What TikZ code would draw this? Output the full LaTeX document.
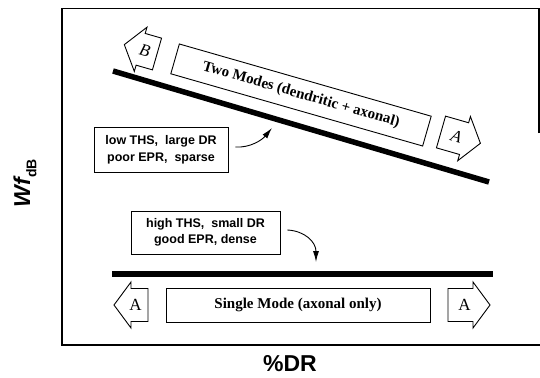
\documentclass[tikz,border=0pt]{standalone}
\usepackage{fontspec}
\setmainfont{Liberation Serif}
\setsansfont{Liberation Sans}
\usetikzlibrary{arrows.meta}
\tikzset{
  frameline/.style={line width=1.5pt},
  modeline/.style={line width=5.5pt},
  modebox/.style={draw, line width=0.9pt, inner sep=0pt, font=\bfseries\fontsize{15}{17}\selectfont},
  notebox/.style={draw, line width=0.9pt, inner sep=0pt, align=center, font=\sffamily\bfseries\fontsize{12.5}{16.5}\selectfont},
  arrowshape/.style={draw, line width=0.9pt, fill=white},
  lettr/.style={inner sep=0pt, font=\fontsize{17}{19}\selectfont},
  callout/.style={-{Latex[length=11pt,width=6pt]}, line width=0.9pt},
  axislabel/.style={inner sep=0pt, font=\sffamily\bfseries\fontsize{23}{25}\selectfont}
}
\newcommand\dirarrow[7]{%
  \begin{scope}[shift={(#2,#3)}, rotate=#4, xscale=#5]
    \draw[arrowshape] (0,-16.5) -- (#6,-16.5) -- (#6,-23) -- ({#6+17},0) -- (#6,23) -- (#6,16.5) -- (0,16.5) -- cycle;
    \node[lettr, rotate=#4] (#1) at ({#6/2+4},0) {#7};
  \end{scope}}
\begin{document}
\begin{tikzpicture}[x=1pt,y=-1pt]
  \useasboundingbox (0,0) rectangle (540,377);
  % frame
  \coordinate (fr1) at (539,133);
  \coordinate (fr2) at (539,8.5);
  \coordinate (fr3) at (62,8.5);
  \coordinate (fr4) at (62,345);
  \coordinate (fr5) at (540,345);
  \draw[frameline] (fr1) -- (fr2) -- (fr3) -- (fr4) -- (fr5);
  % axis labels
  \node[axislabel, rotate=90] (ylab) at (25,183) {\itshape Wf\raisebox{-0.28em}{\upshape\fontsize{14}{14}\selectfont dB}};
  \node[axislabel] (xlab) at (290,363.5) {\%DR};
  % sloped mode line
  \coordinate (s1) at (113,71);
  \coordinate (s2) at (489,182);
  \draw[modeline] (s1) -- (s2);
  \node[modebox, minimum width=262pt, minimum height=31pt, rotate=-16] (two) at (301,95) {Two Modes (dendritic + axonal)};
  \dirarrow{B1}{157}{54}{-16}{-1}{17}{\itshape B}
  \dirarrow{A1}{441}{132}{-16}{1}{24}{\itshape A}
  % low note
  \node[notebox, minimum width=134pt, minimum height=45pt] (low) at (161,150) {low THS,\ \ large DR\\poor EPR,\ \ sparse};
  \coordinate (lowtip) at (272,128);
  \draw[callout] ([xshift=7pt,yshift=3pt]low.east) .. controls (250,148) and (262,140) .. (lowtip);
  % high note
  \node[notebox, minimum width=149pt, minimum height=43pt] (high) at (205.5,232.5) {high THS,\ \ small DR\\good EPR, dense};
  \coordinate (hightip) at (316,262);
  \draw[callout] ([xshift=7pt,yshift=2.5pt]high.east) .. controls (305,231) and (316,242) .. (hightip);
  % flat mode line
  \coordinate (f1) at (112,274);
  \coordinate (f2) at (493,274);
  \draw[modeline] (f1) -- (f2);
  \node[modebox, minimum width=264pt, minimum height=34pt] (single) at (298,305) {Single Mode (axonal only)};
  \dirarrow{A2}{148}{305}{0}{-1}{17}{A}
  \dirarrow{A3}{448}{305}{0}{1}{25}{A}
\end{tikzpicture}
\end{document}
